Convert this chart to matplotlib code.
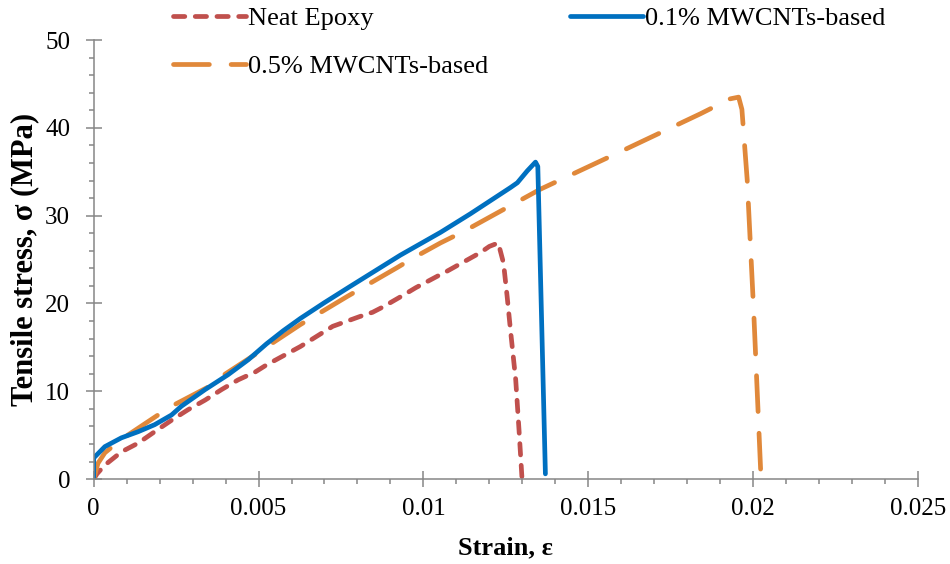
import matplotlib.pyplot as plt
from matplotlib.ticker import MultipleLocator, FuncFormatter

plt.rcParams['font.family'] = ['Liberation Serif', 'DejaVu Serif']

# Neat epoxy
x_neat = [0, 0.0001, 0.00034, 0.00084, 0.00135, 0.00185, 0.00236, 0.00286, 0.00338,
          0.00388, 0.00438, 0.0049, 0.00524, 0.00627, 0.00725, 0.00806, 0.00846,
          0.00877, 0.00937, 0.00977, 0.01042, 0.01068, 0.01173, 0.0120, 0.01227,
          0.01243, 0.01254, 0.01264, 0.0128, 0.0129, 0.01299]
y_neat = [0, 0.6, 1.6, 3.1, 4.1, 5.4, 6.7, 7.9, 9.0,
          10.2, 11.3, 12.2, 13.0, 15.1, 17.4, 18.5, 19.0,
          19.6, 20.9, 21.8, 23.1, 23.6, 25.8, 26.5, 26.9,
          24.6, 20.8, 17.0, 11.3, 5.6, 0.1]

# 0.1% MWCNTs
x_01 = [0, 0, 0.00034, 0.00084, 0.00135, 0.00185, 0.00236, 0.00266, 0.00338,
        0.00408, 0.00469, 0.00524, 0.00575, 0.00627, 0.007, 0.00776, 0.0093, 0.01052,
        0.01142, 0.01264, 0.01285, 0.01315, 0.0134, 0.01347, 0.0137]
y_01 = [0.2, 2.4, 3.7, 4.7, 5.4, 6.2, 7.3, 8.3, 10.2,
        11.9, 13.6, 15.4, 16.9, 18.3, 20.1, 21.9, 25.5, 28.1,
        30.2, 33.2, 33.75, 35.1, 36.1, 35.6, 0.6]

# 0.5% MWCNTs
x_05 = [0, 0.00013, 0.00034, 0.0006, 0.00095, 0.00195, 0.00236, 0.00348, 0.00388,
        0.0049, 0.00627, 0.00769, 0.00921, 0.0097, 0.01052, 0.01122, 0.01354,
        0.01587, 0.0184, 0.0193, 0.01956, 0.01966, 0.01982, 0.02002, 0.02024]
y_05 = [0, 1.8, 3.0, 3.8, 4.8, 7.3, 8.3, 10.5, 11.7,
        14.2, 17.6, 20.8, 24.1, 25.2, 26.9, 28.2, 33.0,
        37.1, 41.6, 43.3, 43.5, 42.1, 34.1, 18.9, 0]

red = '#C0504D'
blue = '#0070C0'
orange = '#E0883A'

fig = plt.figure(figsize=(9.5, 5.64), dpi=100)
ax = fig.add_axes([0.0986, 0.1505, 0.8677, 0.7785])

lw = 3.4
l1, = ax.plot(x_neat, y_neat, color=red, lw=lw, linestyle=(0, (2.4, 2.2)),
              dash_capstyle='round', label='Neat Epoxy')
l3, = ax.plot(x_05, y_05, color=orange, lw=lw, linestyle=(0, (7.6, 4.6)),
              dash_capstyle='round', label='0.5% MWCNTs-based')
l2, = ax.plot(x_01, y_01, color=blue, lw=lw, solid_capstyle='round',
              label='0.1% MWCNTs-based')

ax.set_xlim(0, 0.025)
ax.set_ylim(0, 50)
ax.xaxis.set_major_locator(MultipleLocator(0.005))
ax.xaxis.set_minor_locator(MultipleLocator(0.001))
ax.yaxis.set_major_locator(MultipleLocator(10))
ax.yaxis.set_minor_locator(MultipleLocator(2))
ax.xaxis.set_major_formatter(FuncFormatter(lambda v, p: '0' if v == 0 else ('%g' % v)))

for s in ['top', 'right']:
    ax.spines[s].set_visible(False)
for s in ['left', 'bottom']:
    ax.spines[s].set_color('#868686')
    ax.spines[s].set_linewidth(1.1)

ax.tick_params(which='major', direction='inout', length=12, width=1.1,
               color='#868686', labelsize=18)
ax.tick_params(which='minor', direction='out', length=3.8, width=1.1,
               color='#868686')
ax.tick_params(axis='x', which='major', pad=7.5)
ax.tick_params(axis='y', which='major', pad=11)

ax.set_xlabel('Strain, ε', fontsize=19, fontweight='bold', labelpad=12)
ax.set_ylabel('Tensile stress, σ (MPa)', fontsize=22, fontweight='bold', labelpad=4)

fig.legend(handles=[l1, l3, l2], loc='upper left', bbox_to_anchor=(173 / 950, 1 - 7 / 564),
           ncol=2, frameon=False, fontsize=19, borderpad=0, borderaxespad=0,
           handlelength=2.75, handletextpad=0.1, columnspacing=3.1, labelspacing=0.92)

fig.savefig('out.png', dpi=100)
